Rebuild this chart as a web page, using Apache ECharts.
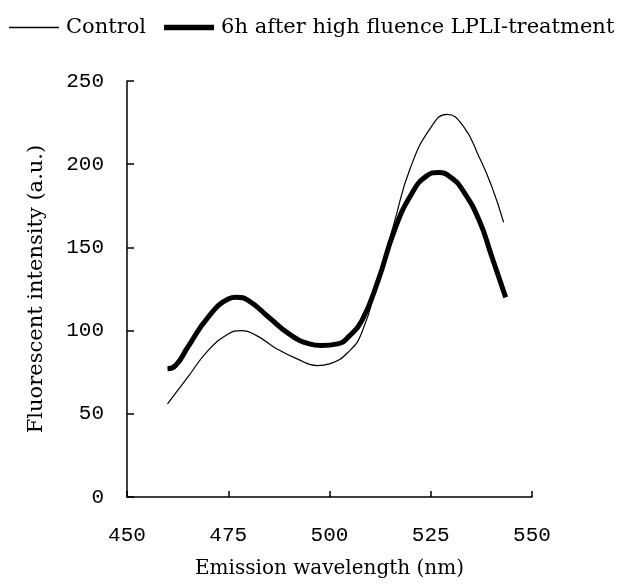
<!DOCTYPE html>
<html>
<head>
<meta charset="utf-8">
<script src="https://cdn.jsdelivr.net/npm/echarts@6/dist/echarts.min.js"></script>
<style>html,body{margin:0;padding:0;background:#fff}#c{width:633px;height:586px}</style>
</head>
<body>
<div id="c"></div>
<script>
const seriesNames = ['Control', '6h after high fluence LPLI-treatment'];
const controlData = [[460,56],[465,72],[470,88],[475,98],[478,100],[482,97],[487,89],[492,83],[497,79],[500,80],[505,88],[508,99],[512,130],[516,165],[520,198],[525,222],[529,230],[533,223],[537,204],[540,187],[543,165]];
const treatedData = [[460,77],[462,79],[465,90],[470,108],[475,119],[477,120],[480,118],[485,108],[490,98],[495,92],[498,91],[502,92],[505,97],[508,106],[512,130],[516,160],[520,181],[524,193],[527,195],[530,192],[533,184],[537,166],[540,145],[543.5,120]];
const xTicks = [450, 475, 500, 525, 550];
const yTicks = [0, 50, 100, 150, 200, 250];

const FONT = 'DejaVu Serif';
const chart = echarts.init(document.getElementById('c'), null, {renderer: 'canvas'});
chart.setOption({
  animation: false,
  backgroundColor: '#fff',
  legend: {
    left: 4, top: 12,
    itemWidth: 50, itemHeight: 10, itemGap: 18,
    textStyle: {fontFamily: FONT, fontSize: 21, color: '#000', padding: [0,0,0,2]},
    data: [
      {name: seriesNames[0], icon: 'path://M0,0 L46,0 L46,1.2 L0,1.2 Z', itemStyle: {color: '#000'}},
      {name: seriesNames[1], icon: 'path://M0,0 L46,0 L46,5 L0,5 Z', itemStyle: {color: '#000'}}
    ]
  },
  grid: {left: 127, right: 101, top: 81, bottom: 89},
  xAxis: {
    type: 'value', min: xTicks[0], max: xTicks[xTicks.length-1], interval: 25,
    name: 'Emission wavelength (nm)', nameLocation: 'middle', nameGap: 62,
    nameTextStyle: {fontFamily: FONT, fontSize: 20, color: '#000'},
    axisLine: {lineStyle: {color: '#000', width: 1.5}},
    axisTick: {inside: true, length: 6, lineStyle: {color: '#000', width: 1.5}},
    axisLabel: {fontFamily: 'Liberation Mono', fontSize: 21, color: '#000', margin: 28},
    splitLine: {show: false}
  },
  yAxis: {
    type: 'value', min: yTicks[0], max: yTicks[yTicks.length-1], interval: 50,
    name: 'Fluorescent intensity (a.u.)', nameLocation: 'middle', nameGap: 80,
    nameTextStyle: {fontFamily: FONT, fontSize: 21, color: '#000'},
    axisLine: {show: true, lineStyle: {color: '#000', width: 1.5}},
    axisTick: {show: true, inside: true, length: 7, lineStyle: {color: '#000', width: 1.5}},
    axisLabel: {fontFamily: 'Liberation Mono', fontSize: 21, color: '#000', margin: 23},
    splitLine: {show: false}
  },
  series: [
    {name: seriesNames[0], type: 'line', data: controlData, smooth: 0.5, symbol: 'none',
     lineStyle: {color: '#000', width: 1.2}, itemStyle: {color: '#000'}, z: 3},
    {name: seriesNames[1], type: 'line', data: treatedData, smooth: 0.5, symbol: 'none',
     lineStyle: {color: '#000', width: 5}, itemStyle: {color: '#000'}, z: 2}
  ]
});
</script>
</body>
</html>
